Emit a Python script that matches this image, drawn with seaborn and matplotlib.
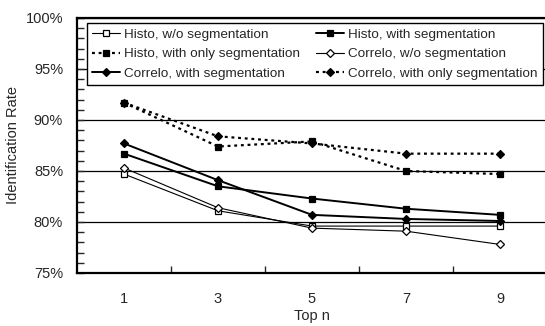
import numpy as np
import pandas as pd
import matplotlib
matplotlib.use("Agg")
import matplotlib.pyplot as plt
import seaborn as sns
from matplotlib.ticker import MultipleLocator, FixedLocator

top_n = ["1", "3", "5", "7", "9"]
histo_wo = [84.7, 81.1, 79.6, 79.6, 79.6]
histo_with = [86.7, 83.5, 82.3, 81.3, 80.7]
histo_only = [91.7, 87.4, 87.9, 85.0, 84.7]
correlo_wo = [85.3, 81.4, 79.4, 79.1, 77.8]
correlo_with = [87.7, 84.1, 80.7, 80.3, 80.1]
correlo_only = [91.7, 88.4, 87.7, 86.7, 86.7]

dots = (0, (1.3, 1.7))
series = [
    ("Histo, w/o segmentation", histo_wo, "s", "white", "-", 0.8),
    ("Histo, with segmentation", histo_with, "s", "black", "-", 1.4),
    ("Histo, with only segmentation", histo_only, "s", "black", dots, 1.6),
    ("Correlo, w/o segmentation", correlo_wo, "D", "white", "-", 0.8),
    ("Correlo, with segmentation", correlo_with, "D", "black", "-", 1.4),
    ("Correlo, with only segmentation", correlo_only, "D", "black", dots, 1.6),
]

sns.set_style("white")
plt.rcParams["font.family"] = ["Liberation Sans", "DejaVu Sans"]
fs = 10.5
lfs = 9.7

fig = plt.figure(figsize=(5.45, 3.26), dpi=100)
ax = fig.add_axes([77 / 545, 1 - 273 / 326, 470 / 545, 255 / 326])

x = np.arange(len(top_n))
for label, vals, mk, fc, ls, lw in series:
    df = pd.DataFrame({"x": x, "y": vals})
    ms = 5.0 if mk == "s" else 3.9
    sns.lineplot(data=df, x="x", y="y", ax=ax, color="black", marker=mk,
                 markersize=ms, markerfacecolor=fc, markeredgecolor="black",
                 markeredgewidth=0.9, linestyle=ls, linewidth=lw, label=label)

ax.set_xlim(-0.5, 4.5)
ax.set_ylim(75, 100)
ax.set_xticks(x)
ax.set_xticklabels(top_n)
ax.xaxis.set_minor_locator(FixedLocator(x[:-1] + 0.5))
ax.yaxis.set_major_locator(MultipleLocator(5))
ax.yaxis.set_minor_locator(MultipleLocator(1))
ax.set_yticklabels([f"{int(v)}%" for v in ax.get_yticks()])
ax.tick_params(axis="x", which="major", length=0, pad=14, labelsize=fs)
ax.tick_params(axis="x", which="minor", direction="in", length=5, width=1,
               bottom=True)
ax.tick_params(axis="y", which="both", direction="in", length=5, width=1,
               left=True, labelsize=fs, pad=10)
ax.grid(axis="y", which="major", color="black", linewidth=0.9)
for s in ["left", "bottom", "top"]:
    ax.spines[s].set_linewidth(1.6)
    ax.spines[s].set_color("black")
ax.spines["right"].set_visible(False)

ax.set_xlabel("Top n", fontsize=fs, labelpad=1.5)
ax.set_ylabel("Identification Rate", fontsize=fs, labelpad=4)

# reorder so the legend reads row by row like the original
handles, labels = ax.get_legend_handles_labels()
order = [0, 2, 4, 1, 3, 5]
leg = ax.legend([handles[i] for i in order], [labels[i] for i in order],
                ncol=2, loc="upper left", bbox_to_anchor=(0.0213, 0.980),
                fontsize=lfs, frameon=True, fancybox=False, handlelength=2.07,
                handletextpad=0.3, columnspacing=1.2, labelspacing=0.52,
                borderpad=0.4, borderaxespad=0)
leg.get_frame().set_edgecolor("black")
leg.get_frame().set_linewidth(1.0)
leg.get_frame().set_alpha(1)

fig.savefig("out.png", dpi=100)
